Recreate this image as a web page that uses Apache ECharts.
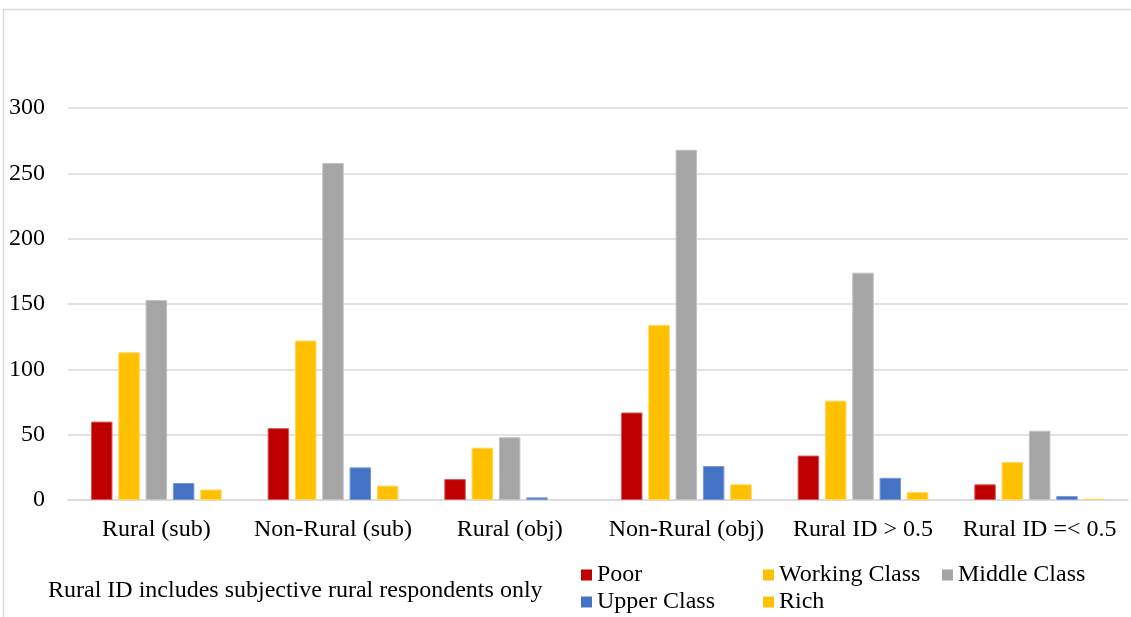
<!DOCTYPE html>
<html>
<head>
<meta charset="utf-8">
<script src="https://cdn.jsdelivr.net/npm/echarts@6/dist/echarts.min.js"></script>
<style>
  html, body { margin: 0; padding: 0; background: #fff; }
  #chart { width: 1131px; height: 617px; }
</style>
</head>
<body>
<div id="chart"></div>
<script>
// Respondent counts by self-reported class, per rural/non-rural grouping
const categories = ['Rural (sub)', 'Non-Rural (sub)', 'Rural (obj)', 'Non-Rural (obj)', 'Rural ID > 0.5', 'Rural ID =< 0.5'];
const poor         = [60, 55, 16, 67, 34, 12];
const workingClass = [113, 122, 40, 134, 76, 29];
const middleClass  = [153, 258, 48, 268, 174, 53];
const upperClass   = [13, 25, 2, 26, 17, 3];
const rich         = [8, 11, 0, 12, 6, 1];
const yTicks = { min: 0, max: 300, interval: 50 };
const note = 'Rural ID includes subjective rural respondents only';

const FONT = "'Liberation Serif', 'Times New Roman', serif";
const GRID_COLOR = '#d9d9d9';

function barSeries(name, data, color, edge) {
  return {
    name: name,
    type: 'bar',
    // empty bars get no outline so nothing is drawn for them
    data: data.map(v => v === 0 ? { value: v, itemStyle: { borderWidth: 0 } } : v),
    barGap: '27%',
    barCategoryGap: '26%',
    itemStyle: { color: color, borderColor: edge, borderWidth: 1 },
    emphasis: { disabled: true }
  };
}

function legendItem(name, left, top) {
  return {
    data: [name],
    left: left,
    top: top,
    icon: 'rect',
    itemWidth: 11,
    itemHeight: 11,
    padding: 0,
    itemStyle: { borderWidth: 0 },
    textStyle: { fontFamily: FONT, fontSize: 24, color: '#000', lineHeight: 26 }
  };
}

const chart = echarts.init(document.getElementById('chart'), null, { renderer: 'canvas' });
chart.setOption({
  animation: false,
  backgroundColor: '#fff',
  grid: { left: 68, right: 3, top: 108, bottom: 117, containLabel: false },
  xAxis: {
    type: 'category',
    data: categories,
    axisLine: { lineStyle: { color: GRID_COLOR, width: 1.5 } },
    axisTick: { show: false },
    axisLabel: { interval: 0, fontFamily: FONT, fontSize: 24, color: '#000', margin: 18 }
  },
  yAxis: {
    type: 'value',
    min: yTicks.min,
    max: yTicks.max,
    interval: yTicks.interval,
    axisLine: { show: false },
    axisTick: { show: false },
    splitLine: { lineStyle: { color: GRID_COLOR, width: 1.5 } },
    axisLabel: { fontFamily: FONT, fontSize: 24, color: '#000', margin: 23 }
  },
  legend: [
    legendItem('Poor', 581, 562),
    legendItem('Working Class', 763, 562),
    legendItem('Middle Class', 942, 562),
    legendItem('Upper Class', 581, 589),
    legendItem('Rich', 763, 589)
  ],
  series: [
    barSeries('Poor', poor, '#C00000', '#d65a5a'),
    barSeries('Working Class', workingClass, '#FFC000', '#ffd55a'),
    barSeries('Middle Class', middleClass, '#A5A5A5', '#c2c2c2'),
    barSeries('Upper Class', upperClass, '#4472C4', '#7d9ad6'),
    barSeries('Rich', rich, '#FFC000', '#ffd55a')
  ],
  graphic: [
    {
      type: 'rect',
      silent: true,
      shape: { x: 3.5, y: 9.5, width: 1145, height: 625 },
      style: { fill: 'none', stroke: GRID_COLOR, lineWidth: 1.5 }
    },
    {
      type: 'text',
      left: 48,
      top: 579,
      style: { text: note, font: '24px ' + FONT, fill: '#000' }
    }
  ]
});
</script>
</body>
</html>
